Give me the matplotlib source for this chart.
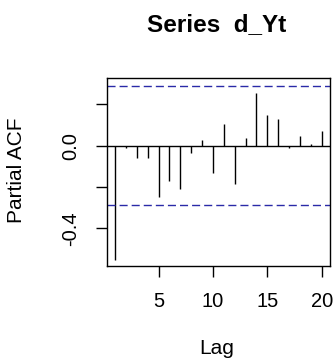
import matplotlib
matplotlib.use('Agg')
from matplotlib import pyplot as plt
import numpy as np

plt.rcParams['font.family'] = ['Liberation Sans', 'DejaVu Sans']

# PACF de la serie d_Yt
lags = np.arange(1, 21)
pacf = [-0.551, -0.013, -0.057, -0.057, -0.247, -0.170, -0.210, -0.037, 0.027, -0.134,
        0.105, -0.183, 0.039, 0.257, 0.149, 0.129, -0.013, 0.047, 0.008, 0.069]
ci = 0.288
xticks = [5, 10, 15, 20]
yticks = [-0.4, -0.2, 0.0, 0.2]
ylabels = ['-0.4', '', '0.0', '']

fig = plt.figure(figsize=(3.34, 3.61), dpi=100)
ax = fig.add_axes([0.3195, 0.263, 0.6685, 0.520])

ax.vlines(lags, 0, pacf, color='black', lw=1.0)
ax.axhline(0, color='black', lw=1.0)
ax.axhline(ci, color='#2a2aa8', lw=1.0, dashes=(5.8, 2.9))
ax.axhline(-ci, color='#2a2aa8', lw=1.0, dashes=(5.8, 2.9))

ax.set_xlim(0.24, 20.76)
ax.set_ylim(-0.582, 0.326)
ax.set_xticks(xticks)
ax.set_xticklabels([str(t) for t in xticks], fontsize=14.5)
ax.set_yticks(yticks)
ax.set_yticklabels(ylabels, fontsize=14.5, rotation=90, va='center')
ax.tick_params(axis='x', length=8, width=1, pad=11, colors='black')
ax.tick_params(axis='y', length=8, width=1, pad=11, colors='black')
for s in ax.spines.values():
    s.set_linewidth(1.0)

fig.text(0.65, 1 - 25 / 361, 'Series  d_Yt', ha='center', va='center',
         fontsize=17.5, fontweight='bold')
fig.text(0.65, 1 - 349 / 361, 'Lag', ha='center', va='center', fontsize=15)
fig.text(17 / 334, 1 - 170 / 361, 'Partial ACF', ha='center', va='center',
         fontsize=15, rotation=90)

plt.savefig('out.png', dpi=100)
